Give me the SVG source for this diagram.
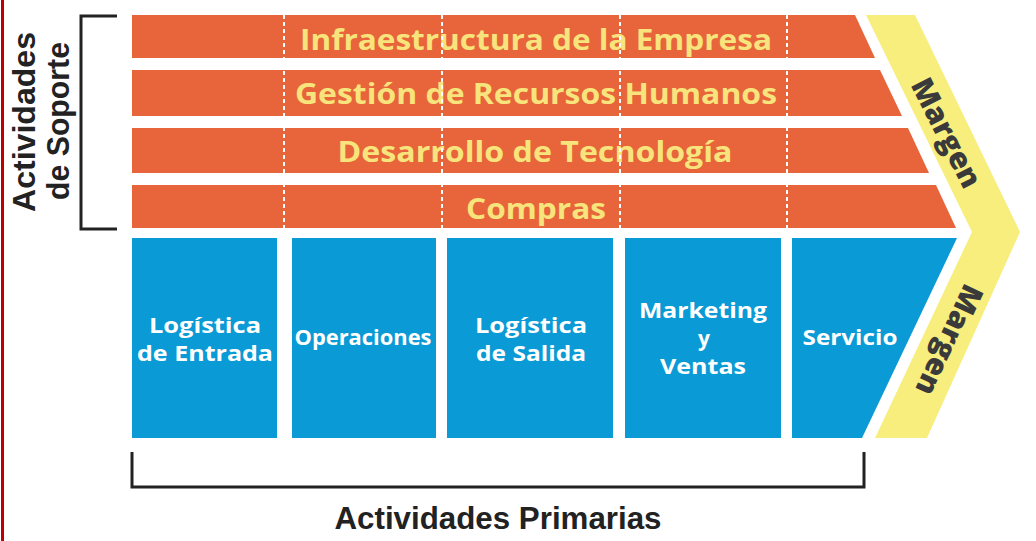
<svg xmlns="http://www.w3.org/2000/svg" width="1036" height="541" viewBox="0 0 1036 541">
<style>
.sup{fill:#E8643B}
.pri{fill:#0A9AD5}
.band{fill:#F7EE7E}
.dash{stroke:#FFFFFF;stroke-width:2;stroke-dasharray:4 3;fill:none}
.st{font-family:"Open Sans","Liberation Sans",sans-serif;font-weight:bold;font-size:28px;fill:#F7E47C;text-anchor:middle}
.pt{font-family:"Open Sans","Liberation Sans",sans-serif;font-weight:bold;font-size:21px;fill:#FFFFFF;text-anchor:middle}
.mt{font-family:"Open Sans","Liberation Sans",sans-serif;font-weight:800;font-size:30px;fill:#3A3A3A;text-anchor:middle}
.lab{font-family:"Liberation Sans",Arial,sans-serif;font-weight:bold;font-size:31px;fill:#222222;text-anchor:middle}
.br{stroke:#222222;stroke-width:3;fill:none}
</style>
<rect x="0" y="0" width="1036" height="541" fill="#FFFFFF"/>
<rect x="1" y="0" width="3" height="541" fill="#C00000"/>

<g id="margen">
<polygon class="band" points="866,15 915,15 1020,232 927,438 875,438 972,232"/>
<text class="mt" transform="translate(946,133) rotate(63)" y="10">Margen</text>
<text class="mt" transform="translate(949,340) rotate(115)" y="10">Margen</text>
</g>

<g id="infraestructura">
<polygon class="sup" points="132,15 855,15 875,58 132,58"/>
<text class="st" x="536" y="50" textLength="472" lengthAdjust="spacingAndGlyphs">Infraestructura de la Empresa</text>
</g>
<g id="rrhh">
<polygon class="sup" points="132,70 880,70 902,116 132,116"/>
<text class="st" x="536" y="104" textLength="482" lengthAdjust="spacingAndGlyphs">Gestión de Recursos Humanos</text>
</g>
<g id="tecnologia">
<polygon class="sup" points="132,128 908,128 929,173 132,173"/>
<text class="st" x="535" y="162" textLength="395" lengthAdjust="spacingAndGlyphs">Desarrollo de Tecnología</text>
</g>
<g id="compras">
<polygon class="sup" points="132,185 936,185 956,228 132,228"/>
<text class="st" x="536" y="219" textLength="140" lengthAdjust="spacingAndGlyphs">Compras</text>
</g>

<g id="divisiones">
<line class="dash" x1="284" y1="15" x2="284" y2="228"/>
<line class="dash" x1="442" y1="15" x2="442" y2="228"/>
<line class="dash" x1="620" y1="15" x2="620" y2="228"/>
<line class="dash" x1="787" y1="15" x2="787" y2="228"/>
</g>

<g id="logistica-entrada">
<rect class="pri" x="132" y="238" width="145" height="200"/>
<text class="pt" x="205" y="333" textLength="112" lengthAdjust="spacingAndGlyphs">Logística</text>
<text class="pt" x="205" y="361" textLength="136" lengthAdjust="spacingAndGlyphs">de Entrada</text>
</g>
<g id="operaciones">
<rect class="pri" x="292" y="238" width="144" height="200"/>
<text class="pt" x="363" y="345" textLength="137" lengthAdjust="spacingAndGlyphs">Operaciones</text>
</g>
<g id="logistica-salida">
<rect class="pri" x="447" y="238" width="166" height="200"/>
<text class="pt" x="531" y="333" textLength="112" lengthAdjust="spacingAndGlyphs">Logística</text>
<text class="pt" x="531" y="361" textLength="110" lengthAdjust="spacingAndGlyphs">de Salida</text>
</g>
<g id="marketing">
<rect class="pri" x="625" y="238" width="156" height="200"/>
<text class="pt" x="703" y="318" textLength="128" lengthAdjust="spacingAndGlyphs">Marketing</text>
<text class="pt" x="704" y="346">y</text>
<text class="pt" x="703" y="374" textLength="86" lengthAdjust="spacingAndGlyphs">Ventas</text>
</g>
<g id="servicio">
<polygon class="pri" points="792,238 957,238 862,438 792,438"/>
<text class="pt" x="850" y="345" textLength="95" lengthAdjust="spacingAndGlyphs">Servicio</text>
</g>

<g id="soporte-label">
<polyline class="br" points="117,16 81,16 81,229 117,229"/>
<text class="lab" transform="translate(35,122) rotate(-90)" textLength="180" lengthAdjust="spacingAndGlyphs">Actividades</text>
<text class="lab" transform="translate(69,121) rotate(-90)" textLength="158" lengthAdjust="spacingAndGlyphs">de Soporte</text>
</g>

<g id="primarias-label">
<polyline class="br" points="132,452 132,487 864,487 864,452"/>
<text class="lab" x="498" y="529" textLength="327" lengthAdjust="spacingAndGlyphs">Actividades Primarias</text>
</g>
</svg>
